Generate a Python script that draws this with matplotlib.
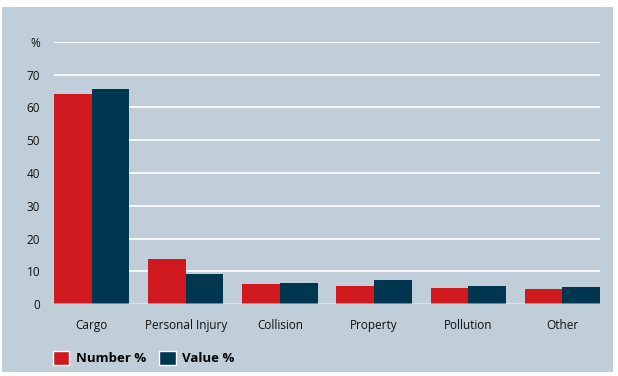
import numpy as np
import matplotlib.pyplot as plt
from matplotlib.patches import Rectangle, Patch

categories = ['Cargo', 'Personal Injury', 'Collision', 'Property', 'Pollution', 'Other']
number_pct = [64.0, 13.8, 6.1, 5.5, 4.9, 4.6]
value_pct = [65.5, 9.2, 6.4, 7.3, 5.5, 5.2]
y_ticks = [0, 10, 20, 30, 40, 50, 60, 70, 80]
y_labels = ['0', '10', '20', '30', '40', '50', '60', '70', '%']

bg = '#bfced8'
red = '#d0181f'
navy = '#003650'

plt.rcParams['font.family'] = ['Open Sans', 'DejaVu Sans']

fig = plt.figure(figsize=(6.18, 3.76), dpi=100)
fig.patch.set_facecolor('white')
# panel background, slightly inset like the original
fig.patches.append(Rectangle((2 / 618, 4 / 376), 611 / 618, 365 / 376,
                             transform=fig.transFigure, facecolor=bg,
                             edgecolor='none', zorder=-10))

ax = fig.add_axes([54 / 618, 72 / 376, 546 / 618, 262 / 376])
ax.set_facecolor('none')
ax.set_zorder(5)

x = np.arange(len(categories))
w = 0.4
ax.bar(x - w / 2, number_pct, w, color=red, zorder=2)
ax.bar(x + w / 2, value_pct, w, color=navy, zorder=2)

for t in y_ticks:
    ax.axhline(t, color='white', lw=1.2, zorder=1 if t else 3,
               alpha=1 if t else 0.5)

ax.set_xlim(-0.4, len(categories) - 0.6)
ax.set_ylim(0, 80)
ax.set_yticks(y_ticks)
ax.set_yticklabels(y_labels, fontsize=8.5, color='#111111')
ax.set_xticks(x)
ax.set_xticklabels(categories, fontsize=8.5, color='#111111')
ax.tick_params(axis='both', length=0)
ax.tick_params(axis='y', pad=10)
ax.tick_params(axis='x', pad=11)
for s in ax.spines.values():
    s.set_visible(False)

handles = [Patch(facecolor=red, edgecolor='white', lw=1, label='Number %'),
           Patch(facecolor=navy, edgecolor='white', lw=1, label='Value %')]
leg = fig.legend(handles=handles, loc='center left',
                 bbox_to_anchor=(41 / 618, 1 - 358 / 376), ncol=2, frameon=False,
                 prop={'weight': 'bold', 'size': 9.5}, handlelength=1.25,
                 handleheight=1.35, handletextpad=0.5, columnspacing=1.0)
leg.set_zorder(6)

fig.savefig('out.png', dpi=100, facecolor=fig.get_facecolor())
